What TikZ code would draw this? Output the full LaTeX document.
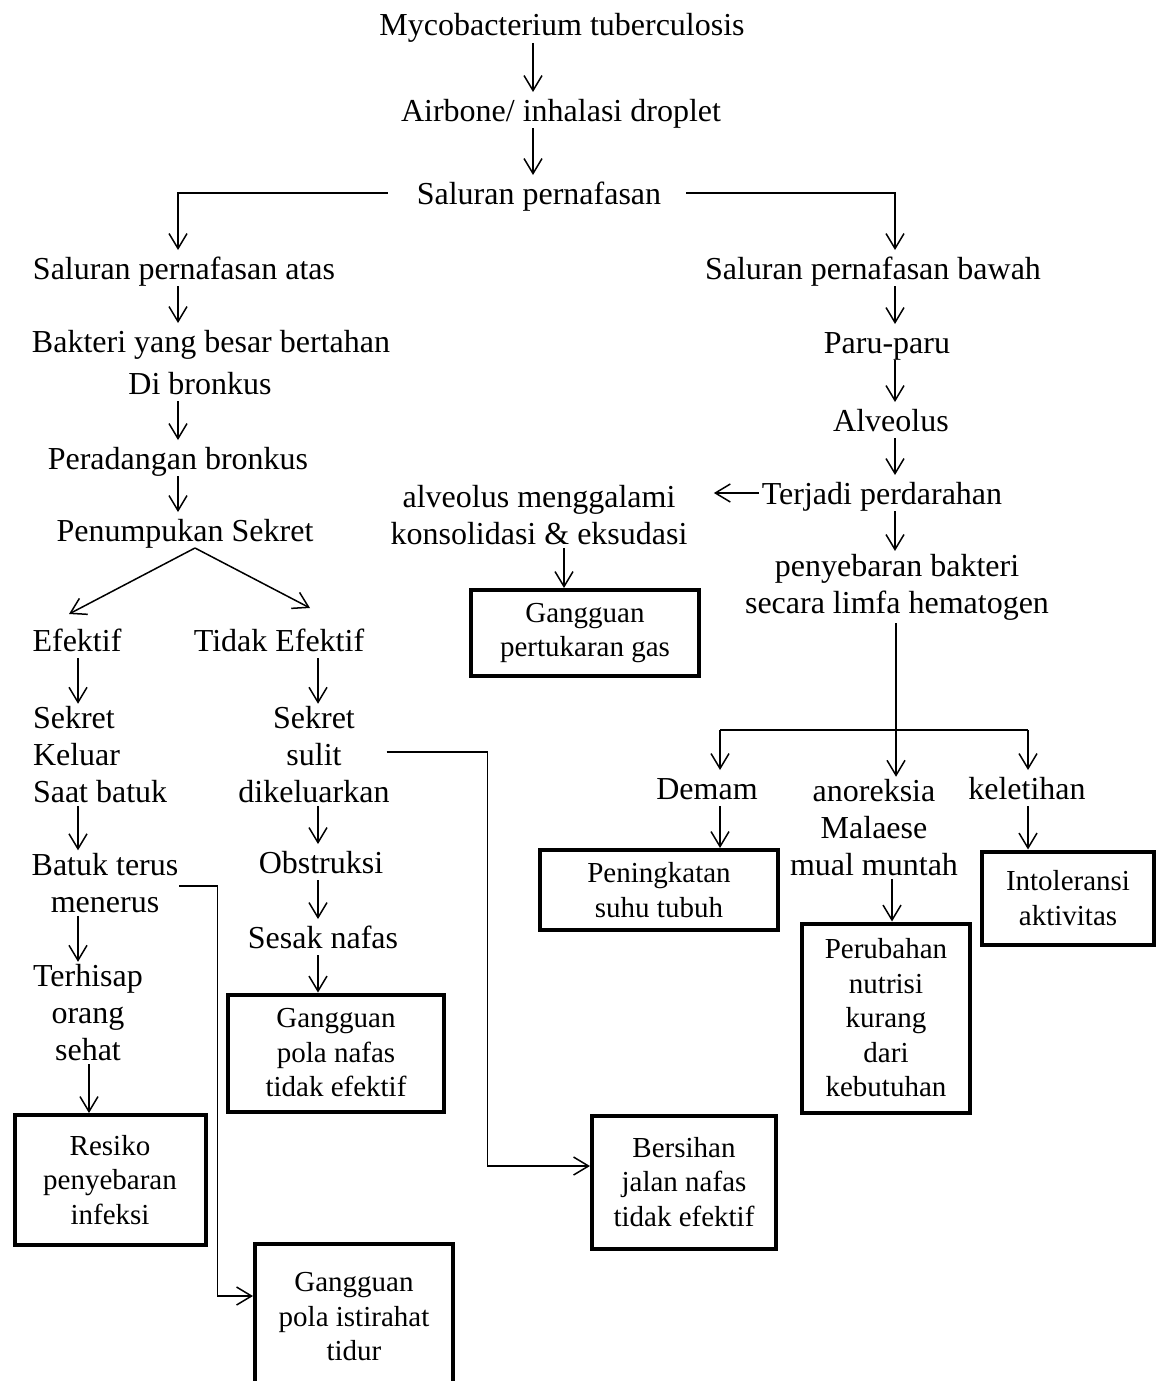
\documentclass[tikz,border=0pt]{standalone}
\usepackage{fontspec}
\setmainfont{Liberation Serif}
\usetikzlibrary{arrows.meta}

\tikzset{
  lbl/.style={font=\fontsize{32}{37}\selectfont, inner sep=0pt, outer sep=3pt, align=center},
  one/.style={lbl, text height=26pt, text depth=4pt},
  kotak/.style={draw, line width=4pt, font=\fontsize{29}{34.5}\selectfont, align=center, inner sep=0pt},
  panah/.style={-{Straight Barb[length=15pt,width=18pt]}, line width=1.5pt},
  garis/.style={line width=1.5pt},
}

\begin{document}
\begin{tikzpicture}[x=1pt, y=-1pt]
        \clip (0,0) rectangle (1156,1381);

        % Kolom panah
        \coordinate (kM) at (533,0);
        \coordinate (kL) at (178,0);
        \coordinate (kR) at (895,0);
        \coordinate (kE) at (78,0);
        \coordinate (kS) at (89,0);
        \coordinate (kT) at (318,0);
        \coordinate (kA) at (564,0);
        \coordinate (kD) at (720,0);
        \coordinate (kN) at (892,0);
        \coordinate (kK) at (1028,0);
        \coordinate (cabang) at (896,730);

        % Bagian atas
        \node[one] (myco) at (562,25) {Mycobacterium tuberculosis};
        \node[one] (udara) at (561,110) {Airbone/ inhalasi droplet};
        \node[one] (sal) at (539,193) {Saluran pernafasan};
        \node[one] (atas) at (184,268) {Saluran pernafasan atas};
        \node[one] (bawah) at (873,268) {Saluran pernafasan bawah};

        % Cabang kiri
        \node[one] (bakteri) at (211,341) {Bakteri yang besar bertahan};
        \node[one] (dibronkus) at (200,383) {Di bronkus};
        \node[one] (radang) at (178,458) {Peradangan bronkus};
        \node[one] (tumpuk) at (185,530) {Penumpukan Sekret};
        \node[one] (efektif) at (77,640) {Efektif};
        \node[one] (tidak) at (279,640) {Tidak Efektif};
        \node[lbl, anchor=west, align=left] (keluar) at (30,755) {Sekret\\Keluar\\Saat batuk};
        \node[lbl] (sulit) at (314,755) {Sekret\\sulit\\dikeluarkan};
        \node[lbl] (batuk) at (105,883) {Batuk terus\\menerus};
        \node[one] (obstruksi) at (321,862) {Obstruksi};
        \node[lbl] (terhisap) at (88,1013) {Terhisap\\orang\\sehat};
        \node[one] (sesak) at (323,937) {Sesak nafas};

        % Cabang kanan
        \node[one] (paru) at (887,342) {Paru-paru};
        \node[one] (alveolus) at (891,420) {Alveolus};
        \node[one] (terjadi) at (882,493) {Terjadi perdarahan};
        \node[lbl] (konsol) at (539,515) {alveolus menggalami\\konsolidasi \& eksudasi};
        \node[lbl] (sebar) at (897,587) {penyebaran bakteri\\secara limfa hematogen};
        \node[one] (demam) at (707,788) {Demam};
        \node[lbl] (anorek) at (874,828) {anoreksia\\Malaese\\mual muntah};
        \node[one] (lelah) at (1027,788) {keletihan};

        % Diagnosa
        \node[kotak, minimum width=228pt, minimum height=86pt] (gas) at (585,633) {Gangguan\\pertukaran gas};
        \node[kotak, minimum width=216pt, minimum height=117pt] (polanafas) at (336,1053) {Gangguan\\pola nafas\\tidak efektif};
        \node[kotak, minimum width=191pt, minimum height=130pt] (resiko) at (110,1180) {Resiko\\penyebaran\\infeksi};
        \node[kotak, minimum width=198pt, minimum height=146pt] (istirahat) at (354,1317) {Gangguan\\pola istirahat\\tidur};
        \node[kotak, minimum width=184pt, minimum height=133pt] (bersihan) at (684,1182) {Bersihan\\jalan nafas\\tidak efektif};
        \node[kotak, minimum width=238pt, minimum height=80pt] (tingkat) at (659,890) {Peningkatan\\suhu tubuh};
        \node[kotak, minimum width=172pt, minimum height=93pt] (intol) at (1068,898) {Intoleransi\\aktivitas};
        \node[kotak, minimum width=168pt, minimum height=189pt] (nutrisi) at (886,1018) {Perubahan\\nutrisi\\kurang\\dari\\kebutuhan};

        % Panah atas
        \draw[panah] (myco.south -| kM) -- (udara.north -| kM);
        \draw[panah] (udara.south -| kM) -- (sal.north -| kM);
        \draw[panah] ([xshift=-26pt]sal.west) -| (atas.north -| kL);
        \draw[panah] ([xshift=22pt]sal.east) -| (bawah.north -| kR);

        % Panah kiri
        \draw[panah] (atas.south -| kL) -- (bakteri.north -| kL);
        \draw[panah] (dibronkus.south -| kL) -- (radang.north -| kL);
        \draw[panah] (radang.south -| kL) -- (tumpuk.north -| kL);
        \draw[panah] ([xshift=10pt]tumpuk.south) -- ([xshift=-8pt,yshift=8pt]efektif.north);
        \draw[panah] ([xshift=10pt]tumpuk.south) -- ([xshift=31pt,yshift=14pt]tidak.north);
        \draw[panah] (efektif.south -| kE) -- (keluar.north -| kE);
        \draw[panah] (keluar.south -| kE) -- (batuk.north -| kE);
        \draw[panah] (batuk.south -| kE) -- (terhisap.north -| kE);
        \draw[panah] (terhisap.south -| kS) -- (resiko.north -| kS);
        \draw[panah] (tidak.south -| kT) -- (sulit.north -| kT);
        \draw[panah] (sulit.south -| kT) -- (obstruksi.north -| kT);
        \draw[panah] (obstruksi.south -| kT) -- (sesak.north -| kT);
        \draw[panah] (sesak.south -| kT) -- (polanafas.north -| kT);
        \draw[panah] ([xshift=-6pt,yshift=3pt]sulit.east) -- ++(101,0) |- ([yshift=16pt]bersihan.west);
        \draw[panah] ([xshift=-2pt,yshift=-3pt]batuk.east) -- ++(38,0) |- ([yshift=21pt]istirahat.west);

        % Panah kanan
        \draw[panah] (bawah.south -| kR) -- (paru.north -| kR);
        \draw[panah] (paru.south -| kR) -- (alveolus.north -| kR);
        \draw[panah] (alveolus.south -| kR) -- (terjadi.north -| kR);
        \draw[panah] (terjadi.south -| kR) -- (sebar.north -| kR);
        \draw[panah] (terjadi.west) -- ++(-45,0);
        \draw[panah] (konsol.south -| kA) -- (gas.north -| kA);

        % Percabangan gejala
        \draw[garis] (sebar.south -| cabang) -- (cabang);
        \draw[garis] (cabang -| kD) -- (cabang -| kK);
        \foreach \k/\n in {kD/demam, cabang/anorek, kK/lelah} {
            \draw[panah] (cabang -| \k) -- (\n.north -| \k);
        }
        \draw[panah] (demam.south -| kD) -- (tingkat.north -| kD);
        \draw[panah] (anorek.south -| kN) -- (nutrisi.north -| kN);
        \draw[panah] (lelah.south -| kK) -- (intol.north -| kK);
\end{tikzpicture}
\end{document}
